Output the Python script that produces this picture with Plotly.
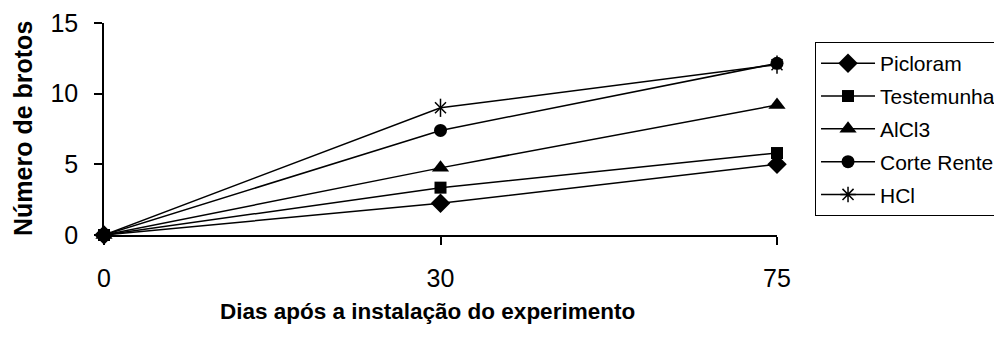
import plotly.graph_objects as go

# Days after setting up the experiment (categorical axis)
dias = ["0", "30", "75"]

picloram = [0, 2.25, 5.0]
testemunha = [0, 3.35, 5.8]
alcl3 = [0, 4.75, 9.2]
corte_rente = [0, 7.4, 12.15]
hcl = [0, 9.0, 12.05]

FONT = "Liberation Sans, Arial, sans-serif"
BLACK = "#000000"

fig = go.Figure()

series = [
    ("Picloram", picloram, "diamond", 15),
    ("Testemunha", testemunha, "square", 12),
    ("AlCl3", alcl3, "triangle-up", 15),
    ("Corte Rente", corte_rente, "circle", 13),
]

for i, (name, vals, sym, size) in enumerate(series):
    fig.add_trace(go.Scatter(
        x=dias, y=vals, name=name, mode="lines+markers",
        line=dict(color=BLACK, width=1.5),
        marker=dict(symbol=sym, size=size, color=BLACK),
        cliponaxis=False, legendgroup=f"g{i}",
    ))

# HCl: six-armed asterisk built from an "x" plus a vertical bar
fig.add_trace(go.Scatter(
    x=dias, y=hcl, name="HCl", mode="lines+markers",
    line=dict(color=BLACK, width=1.5),
    marker=dict(symbol="x-thin-open", size=11, color=BLACK,
                line=dict(color=BLACK, width=1.5)),
    cliponaxis=False, showlegend=False, legendgroup="g4",
))
fig.add_trace(go.Scatter(
    x=dias, y=hcl, mode="markers",
    marker=dict(symbol="line-ns-open", size=13, color=BLACK,
                line=dict(color=BLACK, width=1.5)),
    cliponaxis=False, showlegend=False, hoverinfo="skip", legendgroup="g4",
))
fig.add_trace(go.Scatter(
    x=[None], y=[None], name="HCl", mode="lines+markers",
    line=dict(color=BLACK, width=1.5),
    marker=dict(symbol="asterisk-open", size=13, color=BLACK,
                line=dict(color=BLACK, width=1.5)),
    legendgroup="g4",
))

fig.update_layout(
    width=994, height=339,
    margin=dict(l=104, r=217, t=23, b=104, autoexpand=False),
    paper_bgcolor="white", plot_bgcolor="white",
    font=dict(family=FONT, color=BLACK),
    showlegend=True,
    legend=dict(
        x=1.0565, y=0.91, xanchor="left", yanchor="top",
        bordercolor=BLACK, borderwidth=1, bgcolor="white",
        font=dict(family=FONT, size=21, color=BLACK),
        traceorder="grouped", tracegroupgap=2.5, itemwidth=54,
    ),
    xaxis=dict(
        type="category", range=[0, 2],
        showline=True, linecolor=BLACK, linewidth=1.5,
        ticks="outside", ticklen=8, tickcolor=BLACK, tickwidth=1.5,
        showgrid=False, zeroline=False, ticklabelstandoff=12,
        tickfont=dict(family=FONT, size=25, color=BLACK),
    ),
    yaxis=dict(
        range=[0, 15], tickvals=[0, 5, 10, 15],
        showline=True, linecolor=BLACK, linewidth=1.5,
        ticks="outside", ticklen=8, tickcolor=BLACK, tickwidth=1.5,
        showgrid=False, zeroline=False, ticklabelstandoff=11,
        tickfont=dict(family=FONT, size=25, color=BLACK),
    ),
    annotations=[
        dict(text="<b>Dias após a instalação do experimento</b>",
             xref="paper", yref="paper", x=0.4814, y=(235 - 311) / 212,
             xanchor="center", yanchor="middle", showarrow=False,
             font=dict(family=FONT, size=22.5, color=BLACK)),
        dict(text="<b>Número de brotos</b>", textangle=-90,
             xref="paper", yref="paper", x=(23 - 104) / 673, y=0.5,
             xanchor="center", yanchor="middle", showarrow=False,
             font=dict(family=FONT, size=25, color=BLACK)),
    ],
)

fig.write_html("out.html")
